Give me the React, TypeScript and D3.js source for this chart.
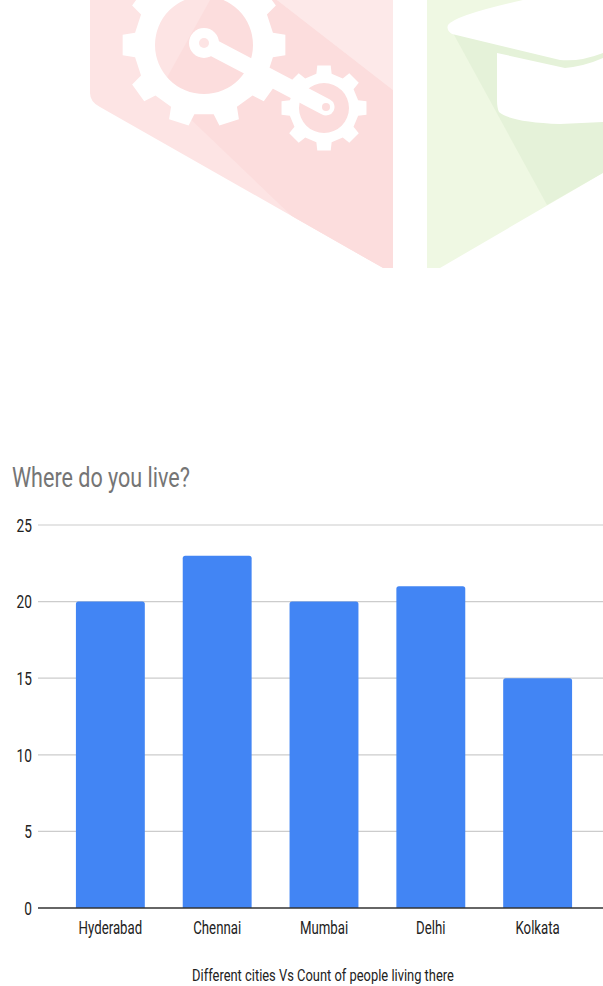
import React from "react";
import * as d3 from "d3";

const cities = ["Hyderabad", "Chennai", "Mumbai", "Delhi", "Kolkata"];
const counts = [20, 23, 20, 21, 15];
const yTicks = [0, 5, 10, 15, 20, 25];
const chartTitle = "Where do you live?";
const xAxisTitle = "Different cities Vs Count of people living there";

const W = 603;
const H = 986;

function gearPath(cx: number, cy: number, n: number, rOut: number, rRoot: number, rHole: number, start: number) {
  const step = (2 * Math.PI) / n;
  const pts: [number, number][] = [];
  for (let i = 0; i < n; i++) {
    const a = start + i * step;
    const tw = step * 0.2;
    const bw = step * 0.28;
    pts.push([cx + rRoot * Math.cos(a - bw), cy + rRoot * Math.sin(a - bw)]);
    pts.push([cx + rOut * Math.cos(a - tw), cy + rOut * Math.sin(a - tw)]);
    pts.push([cx + rOut * Math.cos(a + tw), cy + rOut * Math.sin(a + tw)]);
    pts.push([cx + rRoot * Math.cos(a + bw), cy + rRoot * Math.sin(a + bw)]);
  }
  const outer = "M" + pts.map((p) => p.join(",")).join("L") + "Z";
  const hole = `M${cx + rHole},${cy}A${rHole},${rHole} 0 1,0 ${cx - rHole},${cy}A${rHole},${rHole} 0 1,0 ${cx + rHole},${cy}Z`;
  return outer + hole;
}

function CText(props: {
  x: number; y: number; sx: number; size: number; anchor?: string; fill?: string; dy?: string; children: React.ReactNode;
}) {
  const { x, y, sx, size, anchor = "start", fill = "#222", dy, children } = props;
  return (
    <text
      transform={`translate(${x},${y}) scale(${sx},1)`}
      fontFamily="Roboto, 'Noto Sans', sans-serif"
      fontSize={size}
      textAnchor={anchor}
      fill={fill}
      dy={dy}
    >
      {children}
    </text>
  );
}

function barPath(x: number, y: number, w: number, h: number, r: number) {
  const rr = Math.min(r, h);
  return `M${x},${y + h}V${y + rr}Q${x},${y} ${x + rr},${y}H${x + w - rr}Q${x + w},${y} ${x + w},${y + rr}V${y + h}Z`;
}

function Logo() {
  const redBase = "#fde4e4";
  const redShadow = "#fcdddd";
  const redLight = "#fde9e9";
  const greenBase = "#eff8e3";
  const greenShadow = "#e5f2d9";
  const redShape = "M90,0L393,0L393,268L383,268L100,107Q90,102 90,93Z";
  const greenShape = "M427,0L603,0L603,173L440,268L427,268Z";
  return (
    <g>
      <defs>
        <clipPath id="redClip"><path d={redShape} /></clipPath>
        <clipPath id="greenClip"><path d={greenShape} /></clipPath>
      </defs>
      <path d={redShape} fill={redBase} />
      <g clipPath="url(#redClip)">
        <path d="M160,90L298,222L383,268L393,268L393,90L277,0L210,0Z" fill={redShadow} />
        <path d="M277,0L393,0L393,90Z" fill={redLight} />
      </g>
      <path d={gearPath(204, 45, 10, 82, 70, 49, 0)} fill="#fff" fillRule="evenodd" />
      <path d={gearPath(324, 108, 8, 43, 35, 25, 0)} fill="#fff" fillRule="evenodd" />
      <line x1={206} y1={44} x2={326} y2={107} stroke="#fff" strokeWidth={17} strokeLinecap="round" />
      <circle cx={204} cy={43} r={15} fill="#fff" />
      <circle cx={204} cy={43} r={5} fill={redBase} />
      <circle cx={326} cy={107} r={4} fill={redShadow} />

      <path d={greenShape} fill={greenBase} />
      <g clipPath="url(#greenClip)">
        <path d="M453,33L547,205L603,173L603,40Z" fill={greenShadow} />
      </g>
      <path d="M497,53L565,68Q585,66 603,58L603,122L560,124Q510,122 499,112Q497,108 497,100Z" fill="#fff" />
      <path d="M448,25Q455,15 523,0L603,0L603,53Q580,62 560,60L452,34Q446,30 448,25Z" fill="#fff" />
    </g>
  );
}

export default function App() {
  const x = d3.scaleBand<string>().domain(cities).range([38, 610]).padding(0.355);
  const y = d3.scaleLinear().domain([0, 25]).range([908, 525]);
  const gridX0 = 38;
  const gridX1 = W;

  return (
    <div style={{ position: "absolute", left: 0, top: 0, width: W, height: H, background: "#fff" }}>
      <svg width={W} height={H} style={{ display: "block" }}>
        <rect width={W} height={H} fill="#fff" />
        <Logo />

        <CText x={12} y={487} sx={0.77} size={28} fill="#757575">{chartTitle}</CText>

        {yTicks.filter((t) => t !== 0).map((t) => (
          <line key={"g" + t} x1={gridX0} x2={gridX1} y1={y(t)} y2={y(t)} stroke="#cccccc" strokeWidth={1.2} />
        ))}

        {cities.map((c, i) => (
          <path
            key={c}
            d={barPath(x(c)!, y(counts[i]), x.bandwidth(), y(0) - y(counts[i]), 2.5)}
            fill="#4285f4"
          />
        ))}

        <line x1={gridX0} x2={gridX1} y1={y(0)} y2={y(0)} stroke="#333333" strokeWidth={1.5} />

        {yTicks.map((t) => (
          <CText key={"t" + t} x={32} y={y(t)} sx={0.72} size={19} anchor="end" dy="0.36em">{t}</CText>
        ))}

        {cities.map((c) => (
          <CText key={"l" + c} x={x(c)! + x.bandwidth() / 2} y={934} sx={0.735} size={18} anchor="middle">{c}</CText>
        ))}

        <CText x={323} y={981} sx={0.76} size={17} anchor="middle">{xAxisTitle}</CText>
      </svg>
    </div>
  );
}
